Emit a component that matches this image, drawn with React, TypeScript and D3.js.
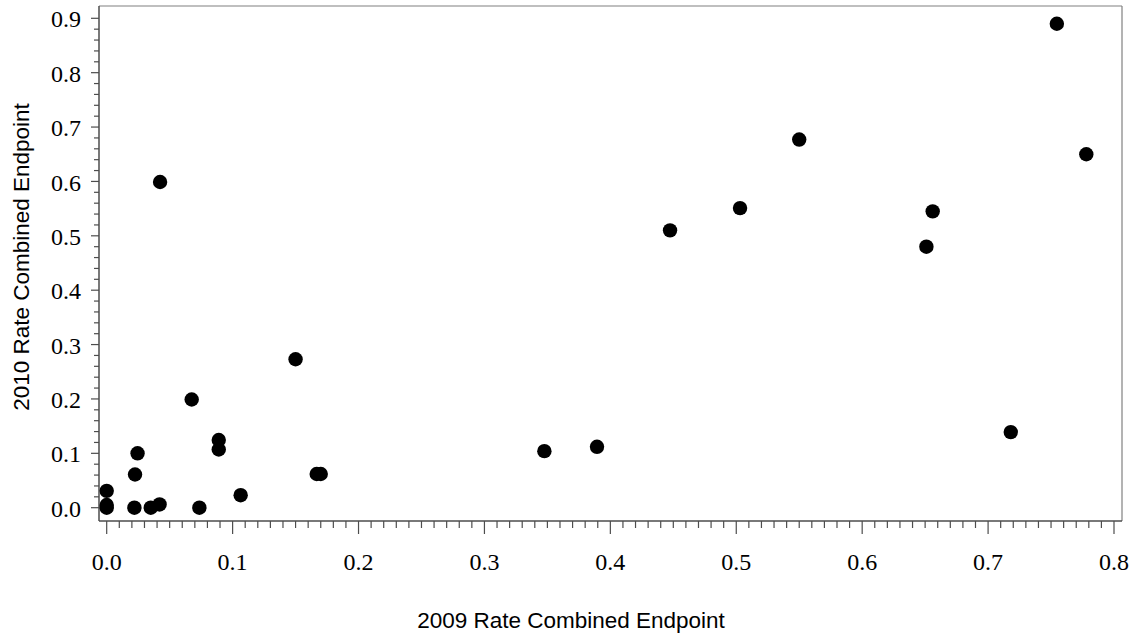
import React from "react";
import * as d3 from "d3";

// 2009 rate (x) and 2010 rate (y) of the combined endpoint
const rate2009: number[] = [
  0.0, 0.0, 0.0, 0.022, 0.0225, 0.0245, 0.035, 0.042, 0.0424, 0.0675,
  0.0736, 0.089, 0.089, 0.1064, 0.15, 0.1668, 0.17, 0.3476, 0.3894, 0.4474,
  0.503, 0.55, 0.651, 0.656, 0.718, 0.7546, 0.778,
];
const rate2010: number[] = [
  0.0, 0.005, 0.031, 0.0, 0.061, 0.1, 0.0, 0.006, 0.599, 0.199,
  0.0, 0.1245, 0.107, 0.023, 0.273, 0.062, 0.062, 0.104, 0.112, 0.51,
  0.551, 0.677, 0.48, 0.545, 0.139, 0.89, 0.65,
];
const xTickValues: number[] = [0, 0.1, 0.2, 0.3, 0.4, 0.5, 0.6, 0.7, 0.8];
const yTickValues: number[] = [0, 0.1, 0.2, 0.3, 0.4, 0.5, 0.6, 0.7, 0.8, 0.9];
const xTitle = "2009 Rate Combined Endpoint";
const yTitle = "2010 Rate Combined Endpoint";

const W = 1133;
const H = 633;
const frame = { left: 99, right: 1122, top: 6, bottom: 521 };

export default function App() {
  const x = d3.scaleLinear().domain([0, 0.8]).range([106.7, 1114]);
  const y = d3.scaleLinear().domain([0, 0.9]).range([507.7, 18.3]);
  const fmt = d3.format(".1f");
  const isMajor = (v: number, step: number) => Math.abs(v / step - Math.round(v / step)) < 1e-6;
  const xMinor = x.ticks(80).filter((v) => !isMajor(v, 0.1));
  const yMinor = y.ticks(45).filter((v) => !isMajor(v, 0.1));
  const axisColor = "#4d4d4d";
  const serif = "'Liberation Serif', 'Times New Roman', serif";
  const sans = "'Liberation Sans', Arial, sans-serif";

  return (
    <svg
      width={W}
      height={H}
      style={{ position: "absolute", left: 0, top: 0, background: "#fff" }}
    >
      {/* frame top/right */}
      <line x1={frame.left} x2={frame.right} y1={frame.top} y2={frame.top} stroke="#808080" strokeWidth={1.2} />
      <line x1={frame.right} x2={frame.right} y1={frame.top} y2={frame.bottom} stroke="#808080" strokeWidth={1.2} />
      {/* axes */}
      <line x1={frame.left} x2={frame.right} y1={frame.bottom} y2={frame.bottom} stroke={axisColor} strokeWidth={1.5} />
      <line x1={frame.left} x2={frame.left} y1={frame.top} y2={frame.bottom} stroke={axisColor} strokeWidth={1.5} />

      {/* x ticks */}
      {xMinor.map((v) => (
        <line key={"xm" + v} x1={x(v)} x2={x(v)} y1={frame.bottom} y2={frame.bottom + 7} stroke={axisColor} strokeWidth={1.2} />
      ))}
      {xTickValues.map((v) => (
        <g key={"xt" + v}>
          <line x1={x(v)} x2={x(v)} y1={frame.bottom} y2={frame.bottom + 13} stroke={axisColor} strokeWidth={1.2} />
          <text x={x(v)} y={570} textAnchor="middle" fontFamily={serif} fontSize={24} fill="#000">
            {fmt(v)}
          </text>
        </g>
      ))}

      {/* y ticks */}
      {yMinor.map((v) => (
        <line key={"ym" + v} x1={frame.left - 5} x2={frame.left} y1={y(v)} y2={y(v)} stroke={axisColor} strokeWidth={1.2} />
      ))}
      {yTickValues.map((v) => (
        <g key={"yt" + v}>
          <line x1={frame.left - 8} x2={frame.left} y1={y(v)} y2={y(v)} stroke={axisColor} strokeWidth={1.2} />
          <text x={81} y={y(v)} dy="0.38em" textAnchor="end" fontFamily={serif} fontSize={24} fill="#000">
            {fmt(v)}
          </text>
        </g>
      ))}

      {/* titles */}
      <text x={571} y={628} textAnchor="middle" fontFamily={sans} fontSize={22.5} fill="#000">
        {xTitle}
      </text>
      <text
        transform={`translate(29, 257) rotate(-90)`}
        textAnchor="middle"
        fontFamily={sans}
        fontSize={22.5}
        fill="#000"
      >
        {yTitle}
      </text>

      {/* points */}
      {rate2009.map((v, i) => (
        <circle key={"p" + i} cx={x(v)} cy={y(rate2010[i])} r={7.2} fill="#000" />
      ))}
    </svg>
  );
}
